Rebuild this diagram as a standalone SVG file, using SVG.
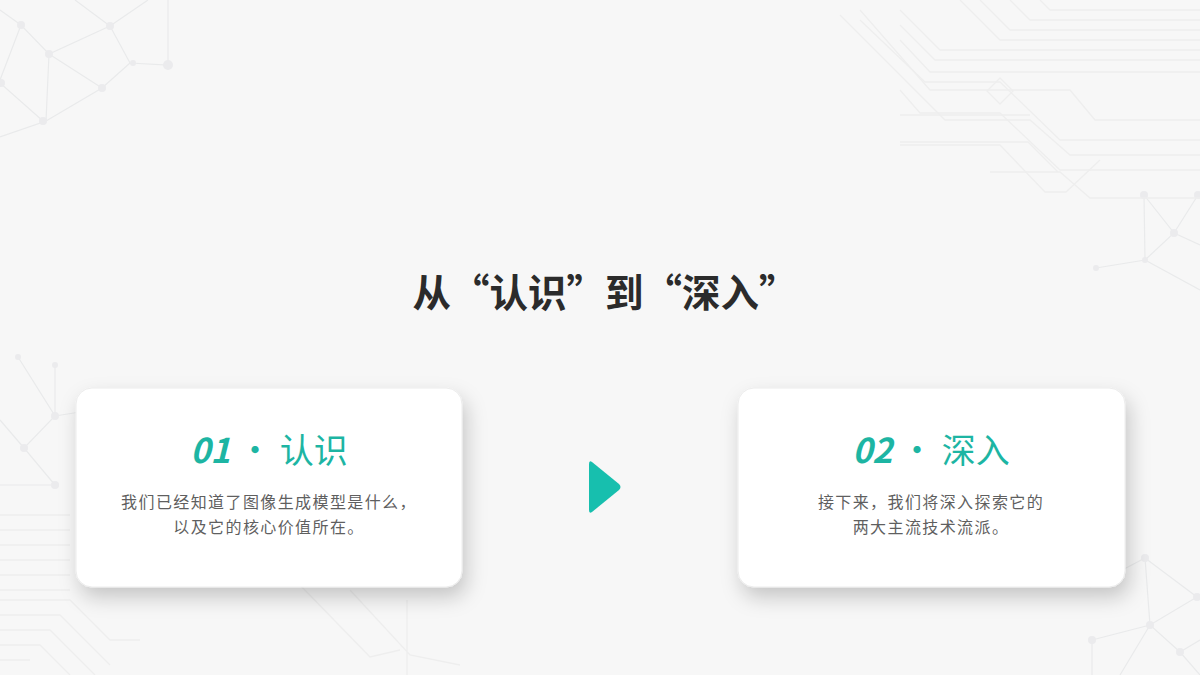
<svg xmlns="http://www.w3.org/2000/svg" width="1200" height="675" viewBox="0 0 1200 675">
<defs>
<filter id="sh" x="-20%" y="-20%" width="150%" height="160%">
<feDropShadow dx="4" dy="10" stdDeviation="10" flood-color="#000" flood-opacity="0.2"/>
</filter>
<style>
.bg-line{fill:none;stroke:#e9eaeb;stroke-width:1.2}
.bg-node{fill:#ebebed}
.circ{fill:none;stroke:#eeeeee;stroke-width:1.3}
.title{font-family:"Noto Sans CJK SC","Noto Sans CJK TC",sans-serif;font-weight:700;font-size:38.5px;fill:#2b2b2b}
.head{font-family:"Noto Sans CJK SC",sans-serif;font-size:34px;fill:#1db5a3}
.num{font-weight:700;font-style:italic}
.body{font-family:"Noto Sans CJK SC",sans-serif;font-size:16px;fill:#5f5f5f;letter-spacing:1.4px}
.card{fill:#ffffff;stroke:#ececec;stroke-width:1}
</style>
</defs>
<rect width="1200" height="675" fill="#f7f7f7"/>
<g id="background">
<g class="bg-line">
<path d="M0 80 L21 25 L49 54 L110 26 L130 63 L168 65 L168 0"/>
<path d="M110 26 L148 0 M49 54 L46 121 L0 137 M46 121 L102 88 L130 63 M0 83 L43 121 M49 54 L102 88 M21 25 L0 10 M110 26 L75 0"/>
<path d="M18 357 L55 416 L24 448 L55 485 L0 485 M55 365 L55 416 M24 448 L0 420 M55 416 L80 412"/>
<path d="M1145 558 L1197 597 L1150 625 L1092 640 M1145 558 L1150 625 L1180 652 L1200 640 M1092 640 L1092 675 M1150 625 L1120 675 M1145 558 L1090 587 M1180 652 L1200 675"/>
<path d="M1144 195 L1174 233 L1145 260 L1096 268 M1144 195 L1145 260 M1174 233 L1200 245 M1198 195 L1174 233 M1145 260 L1200 290"/>
</g>
<g class="bg-node">
<circle cx="21" cy="25" r="4"/><circle cx="49" cy="54" r="4"/><circle cx="110" cy="26" r="4"/><circle cx="168" cy="65" r="5"/><circle cx="133" cy="63" r="3"/><circle cx="102" cy="88" r="4"/><circle cx="43" cy="121" r="4"/><circle cx="1" cy="83" r="4"/>
<circle cx="18" cy="357" r="3"/><circle cx="55" cy="365" r="3"/><circle cx="55" cy="416" r="4"/><circle cx="24" cy="448" r="4"/><circle cx="55" cy="485" r="4"/>
<circle cx="1145" cy="558" r="4"/><circle cx="1197" cy="597" r="4"/><circle cx="1150" cy="625" r="4"/><circle cx="1092" cy="640" r="4"/><circle cx="1180" cy="652" r="4"/>
<circle cx="1144" cy="195" r="4"/><circle cx="1174" cy="233" r="4"/><circle cx="1145" cy="260" r="3"/><circle cx="1096" cy="268" r="3"/><circle cx="1198" cy="195" r="4"/>
</g>
<g class="circ">
<path d="M900 10 L940 50 L1200 50"/>
<path d="M900 25 L935 60 L1200 60"/>
<path d="M960 0 L1000 40 L1200 40"/>
<path d="M980 0 L1010 30 L1200 30"/>
<path d="M1010 0 L1030 20 L1200 20"/>
<path d="M1040 0 L1050 10 L1200 10"/>
<path d="M900 40 L930 72 L1200 72"/>
<path d="M860 20 L925 82 L1000 82 L1060 140 L1200 140"/>
<path d="M860 10 L930 90 L1070 90 L1095 120 L1200 120"/>
<path d="M840 15 L945 120 L1030 120 L1070 155 L1200 155"/>
<path d="M900 90 L920 113 L1000 113 L1060 170 L1200 170"/>
<path d="M990 172 L1060 172 L1090 198 L1200 198 M900 142 L1028 142 L1058 172"/>
<path d="M1000 78 L1013 91 L1000 104 L987 91 Z"/>
<path d="M900 115 L1030 115 M900 145 L1000 145 L1045 192 L1066 192 L1100 160"/>
<path d="M0 515 L70 515 M0 530 L70 530 M0 545 L70 545 M0 560 L70 560 M0 575 L70 575 M0 590 L70 590"/>
<path d="M0 600 L70 600 L110 640 L140 640 M0 615 L60 615 L110 665 M0 630 L50 630 L95 675 M0 645 L40 645 L70 675 M0 660 L30 660"/>
<path d="M300 585 L370 657 L400 650 M350 590 L410 655 L460 665 M407 600 L407 675"/>
</g>
</g>
<text class="title" x="605" y="307" text-anchor="middle">从“认识”到“深入”</text>
<g id="card1">
<rect class="card" x="76" y="388" width="386" height="199" rx="16" filter="url(#sh)"/>
<text class="head" x="269" y="463" text-anchor="middle"><tspan class="num">01</tspan> · 认识</text>
<text class="body" x="269" y="508" text-anchor="middle">我们已经知道了图像生成模型是什么，</text>
<text class="body" x="269" y="533" text-anchor="middle">以及它的核心价值所在。</text>
</g>
<g id="card2">
<rect class="card" x="738" y="388" width="387" height="199" rx="16" filter="url(#sh)"/>
<text class="head" x="931" y="463" text-anchor="middle"><tspan class="num">02</tspan> · 深入</text>
<text class="body" x="931" y="508" text-anchor="middle">接下来，我们将深入探索它的</text>
<text class="body" x="931" y="533" text-anchor="middle">两大主流技术流派。</text>
</g>
<g id="connectors">
<path d="M592 462 L619 484 Q622 487 619 490 L592 512 Q589 514 589 510 L589 464 Q589 460 592 462 Z" fill="#17bfae"/>
</g>
</svg>
